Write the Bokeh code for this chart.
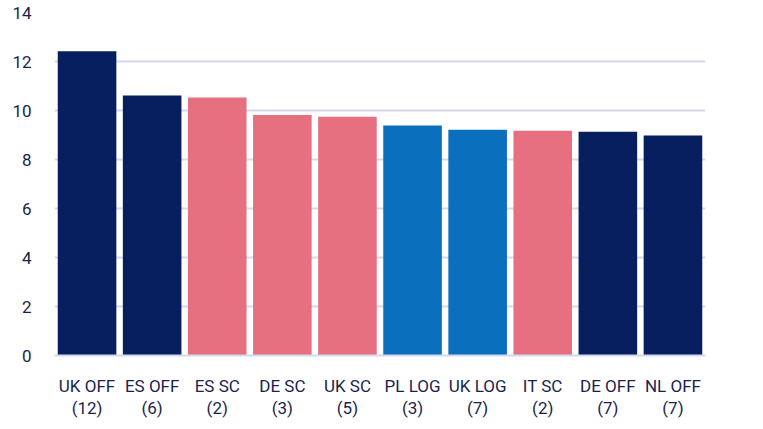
from bokeh.plotting import figure
from bokeh.models import ColumnDataSource, FactorRange, Range1d, FixedTicker
from bokeh.embed import file_html
from bokeh.resources import INLINE

# ---- data ----
names = ["UK OFF", "ES OFF", "ES SC", "DE SC", "UK SC", "PL LOG", "UK LOG", "IT SC", "DE OFF", "NL OFF"]
counts = [12, 6, 2, 3, 5, 3, 7, 2, 7, 7]
values = [12.42, 10.61, 10.53, 9.82, 9.75, 9.39, 9.21, 9.17, 9.13, 8.98]
groups = ["OFF", "OFF", "SC", "SC", "SC", "LOG", "LOG", "SC", "OFF", "OFF"]
y_ticks = [0, 2, 4, 6, 8, 10, 12, 14]

palette = {"OFF": "#071f5e", "SC": "#e66f80", "LOG": "#0a6fbd"}

labels = [f"{n}\n({c})" for n, c in zip(names, counts)]
colors = [palette[g] for g in groups]

src = ColumnDataSource(dict(x=labels, top=values, color=colors))

FONT = "Roboto"
TEXT = "#1a1f4e"

p = figure(
    x_range=FactorRange(*labels, range_padding=0),
    y_range=Range1d(0, 14),
    width=759, height=425,
    output_backend="svg", toolbar_location=None,
    min_border_left=58, min_border_right=50,
    min_border_top=16, min_border_bottom=66,
    styles={"margin-top": "-4px", "margin-left": "-4px"},
)

p.vbar(x="x", top="top", width=0.9, source=src, fill_color="color", line_color=None)

p.outline_line_color = None
p.background_fill_color = "white"
p.border_fill_color = "white"

p.xgrid.grid_line_color = None
p.ygrid.grid_line_color = "#d3daef"
p.ygrid.grid_line_width = 2
p.ygrid.level = "underlay"

p.yaxis.ticker = FixedTicker(ticks=y_ticks)
p.yaxis.axis_line_color = None
p.yaxis.major_tick_line_color = None
p.yaxis.minor_tick_line_color = None
p.yaxis.major_label_standoff = 17
p.yaxis.major_label_text_font = FONT
p.yaxis.major_label_text_font_size = "17px"
p.yaxis.major_label_text_color = TEXT

p.xaxis.axis_line_color = "#d3daef"
p.xaxis.axis_line_width = 2
p.xaxis.major_tick_line_color = None
p.xaxis.minor_tick_line_color = None
p.xaxis.major_label_standoff = 14
p.xaxis.major_label_text_font = FONT
p.xaxis.major_label_text_font_size = "17px"
p.xaxis.major_label_text_color = TEXT
p.xaxis.major_label_text_line_height = 1.1

open("out.html", "w").write(file_html(p, INLINE))
